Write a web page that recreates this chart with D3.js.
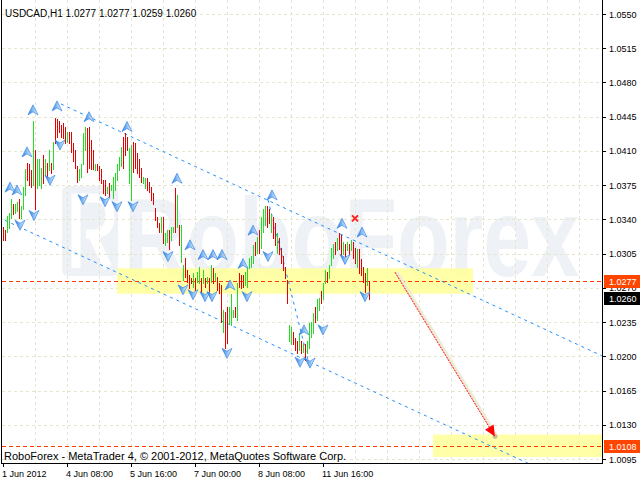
<!DOCTYPE html>
<html><head><meta charset="utf-8">
<script src="https://cdn.jsdelivr.net/npm/d3@7"></script>
<style>
html,body{margin:0;padding:0;background:#fff;overflow:hidden;}
svg{display:block;}
text{font-family:"Liberation Sans",Arial,sans-serif;}
</style>
</head><body>
<svg id="c" width="640" height="481"></svg>
<script>
// ---------------- DATA ----------------
const symbolTitle = "USDCAD,H1  1.0277 1.0277 1.0259 1.0260";
const footerText = "RoboForex - MetaTrader 4, © 2001-2012, MetaQuotes Software Corp.";
const watermarkText = "RoboForex";

// H1 bars (one per hour), highs / lows, and colour (g = bull, r = bear)
const barHigh = [
1.0332,1.0329,1.0343,1.0347,1.0361,1.0356,1.0356,1.0358,1.0361,1.0354,
1.0373,1.0392,1.0398,1.0397,1.0390,1.0441,1.0411,1.0402,1.0402,1.0393,
1.0406,1.0402,1.0398,1.0411,1.0398,1.0419,1.0444,1.0443,1.0441,1.0436,
1.0439,1.0434,1.0429,1.0429,1.0429,1.0418,1.0411,1.0395,1.0392,1.0397,
1.0428,1.0434,1.0433,1.0434,1.0421,1.0411,1.0397,1.0397,1.0395,1.0392,
1.0380,1.0380,1.0373,1.0377,1.0375,1.0383,1.0387,1.0397,1.0404,1.0414,
1.0424,1.0428,1.0424,1.0413,1.0416,1.0419,1.0418,1.0408,1.0402,1.0393,
1.0383,1.0382,1.0382,1.0378,1.0373,1.0367,1.0352,1.0342,1.0336,1.0342,
1.0342,1.0326,1.0329,1.0329,1.0332,1.0332,1.0372,1.0365,1.0334,1.0334,
1.0293,1.0301,1.0288,1.0283,1.0280,1.0285,1.0280,1.0286,1.0291,1.0280,
1.0288,1.0280,1.0281,1.0280,1.0293,1.0290,1.0285,1.0281,1.0275,1.0273,
1.0247,1.0245,1.0250,1.0250,1.0264,1.0247,1.0250,1.0275,1.0285,1.0283,
1.0283,1.0286,1.0290,1.0301,1.0303,1.0314,1.0317,1.0322,1.0329,1.0342,
1.0351,1.0354,1.0354,1.0351,1.0346,1.0342,1.0336,1.0326,1.0321,1.0311,
1.0303,1.0291,1.0278,1.0232,1.0230,1.0225,1.0219,1.0216,1.0224,1.0216,
1.0213,1.0213,1.0216,1.0234,1.0235,1.0244,1.0250,1.0259,1.0260,1.0267,
1.0275,1.0288,1.0286,1.0293,1.0311,1.0315,1.0317,1.0321,1.0326,1.0324,
1.0317,1.0315,1.0317,1.0315,1.0319,1.0317,1.0311,1.0310,1.0310,1.0300,
1.0291,1.0285,1.0290,1.0277];
const barLow = [
1.0319,1.0319,1.0327,1.0331,1.0341,1.0346,1.0347,1.0349,1.0341,1.0341,
1.0351,1.0365,1.0380,1.0375,1.0373,1.0375,1.0351,1.0372,1.0375,1.0372,
1.0377,1.0385,1.0382,1.0390,1.0387,1.0392,1.0418,1.0424,1.0429,1.0424,
1.0423,1.0418,1.0419,1.0418,1.0409,1.0400,1.0393,1.0378,1.0380,1.0383,
1.0397,1.0411,1.0388,1.0393,1.0392,1.0392,1.0390,1.0390,1.0380,1.0377,
1.0367,1.0365,1.0367,1.0363,1.0370,1.0362,1.0370,1.0380,1.0390,1.0395,
1.0393,1.0406,1.0411,1.0377,1.0360,1.0388,1.0393,1.0387,1.0383,1.0378,
1.0377,1.0372,1.0370,1.0368,1.0360,1.0356,1.0339,1.0332,1.0327,1.0327,
1.0316,1.0314,1.0317,1.0310,1.0319,1.0327,1.0327,1.0332,1.0314,1.0296,
1.0278,1.0281,1.0276,1.0270,1.0275,1.0271,1.0268,1.0276,1.0275,1.0266,
1.0275,1.0271,1.0275,1.0265,1.0276,1.0275,1.0278,1.0268,1.0265,1.0235,
1.0225,1.0209,1.0214,1.0234,1.0232,1.0240,1.0240,1.0237,1.0271,1.0270,
1.0271,1.0273,1.0271,1.0290,1.0291,1.0295,1.0304,1.0306,1.0306,1.0311,
1.0327,1.0334,1.0332,1.0336,1.0327,1.0321,1.0314,1.0306,1.0305,1.0295,
1.0288,1.0280,1.0255,1.0216,1.0213,1.0213,1.0206,1.0203,1.0206,1.0203,
1.0204,1.0196,1.0203,1.0209,1.0220,1.0224,1.0235,1.0237,1.0247,1.0254,
1.0259,1.0275,1.0276,1.0280,1.0293,1.0301,1.0305,1.0309,1.0310,1.0303,
1.0305,1.0303,1.0309,1.0305,1.0309,1.0301,1.0295,1.0291,1.0285,1.0283,
1.0276,1.0266,1.0273,1.0259];
const barColor = (
"rrgggrggrg" + "ggrrrgrggg" + "rgrgrgrrrr" + "rrgrrrrrgg" +
"ggrrrrgrrr" + "rrgrgggggg" + "rrrggrrrrr" + "ggrrrrrrrg" +
"rggrggrgrg" + "grrrrgrggr" + "grgrgrgrrr" + "grrgggrgrr" +
"rgggggrgrg" + "ggrrgrrgrr" + "rrrggrrrgr" + "grggggrggr" +
"ggrgggrgrr" + "grgrgrrgrr" + "rrgr").split("");

const priceTicks = [1.0550,1.0515,1.0480,1.0445,1.0410,1.0375,1.0340,1.0305,1.0270,1.0235,1.0200,1.0165,1.0130,1.0095];
const timeLabels = ["1 Jun 2012","4 Jun 08:00","5 Jun 16:00","7 Jun 00:00","8 Jun 08:00","11 Jun 16:00"];
const timeLabelBars = [0,32,64,96,128,160];

// analysis objects: [bar index, price]
const zoneBars = [[57,235],[215,300]];
const zonePrices = [[1.0290,1.0264],[1.0120,1.0097]];
const levelPrices = [1.0277,1.0108];
const lastPrice = 1.0260;
const channelUpper = [[29,1.0458],[300,1.0200]];
const channelLower = [[1,1.0339],[300,1.0055]];
const swingLine = [[132.5,1.0360],[153.5,1.0188]];
const forecastArrow = [[196,1.0286],[246,1.0118]];
const crossMark = [176,1.0341];
const fractalUp = [[3.5,1.0373],[7,1.0370],[12,1.0409],[15,1.0452],[27,1.0456],[43,1.0445],[62,1.0435],
  [87,1.0382],[93.5,1.0314],[100,1.0304],[105,1.0304],[109.5,1.0304],[113.5,1.0273],[120,1.0295],
  [125,1.0329],[134.5,1.0365],[150.5,1.0227],[169.5,1.0336],[179.5,1.0327]];
const fractalDown = [[8.5,1.0334],[15.5,1.0344],[23.5,1.0380],[28.5,1.0416],[40,1.0360],[51,1.0358],
  [57,1.0353],[65,1.0353],[82.5,1.0302],[90,1.0268],[95,1.0263],[101,1.0261],[104.5,1.0261],[112,1.0203],
  [122,1.0261],[132.5,1.0302],[148.5,1.0194],[153.5,1.0193],[160,1.0227],[171,1.0299],[181,1.0261]];

// ---------------- DRAW ----------------
const W = 640, H = 481;
const plot = {left: 2, right: 602, top: 0, bottom: 463};
const svg = d3.select("#c");
const x = d3.scaleLinear().domain([0, 300]).range([3, 603]);
const y = d3.scaleLinear().domain([1.0095, 1.0550]).range([459, 14]);

svg.append("rect").attr("width", W).attr("height", H).attr("fill", "#fff");

const defs = svg.append("defs");
defs.append("clipPath").attr("id", "pc").append("rect")
  .attr("x", plot.left).attr("y", plot.top).attr("width", plot.right - plot.left).attr("height", plot.bottom - plot.top);
const gr = defs.append("linearGradient").attr("id", "fg").attr("x1", "0").attr("x2", "1").attr("y1", "0").attr("y2", "0");
gr.append("stop").attr("offset", "0").attr("stop-color", "#2a78dc");
gr.append("stop").attr("offset", "0.5").attr("stop-color", "#8cc0f2");
gr.append("stop").attr("offset", "1").attr("stop-color", "#eaf4ff");

const g = svg.append("g").attr("clip-path", "url(#pc)");

// watermark (logo drawn as shape, word as text squeezed by a transform)
const wm = g.append("g");
wm.append("rect").attr("x", 62).attr("y", 186).attr("width", 56).attr("height", 90).attr("rx", 6).attr("fill", "#eef1f5");
wm.append("path")
  .attr("d", "M76,268 L76,198 L96,198 Q110,198 110,216 Q110,232 96,234 L86,234 M92,234 L108,268")
  .attr("fill", "none").attr("stroke", "#fff").attr("stroke-width", 9);
wm.append("text").attr("transform", "translate(124,276) scale(0.77,1)")
  .attr("font-size", 112).attr("font-weight", "bold").attr("fill", "#eef1f5").text(watermarkText);

// grid
const gridCol = "#e6e6cc";
g.append("g").selectAll("line").data(priceTicks).join("line")
  .attr("x1", plot.left).attr("x2", plot.right)
  .attr("y1", d => Math.round(y(d)) + 0.5).attr("y2", d => Math.round(y(d)) + 0.5)
  .attr("stroke", gridCol).attr("stroke-dasharray", "3,3");
g.append("g").selectAll("line").data(d3.range(16, 300, 16)).join("line")
  .attr("x1", d => Math.round(x(d)) + 0.5).attr("x2", d => Math.round(x(d)) + 0.5)
  .attr("y1", plot.top).attr("y2", plot.bottom)
  .attr("stroke", gridCol).attr("stroke-dasharray", "3,3");

// zones
g.append("g").selectAll("rect").data(zoneBars).join("rect")
  .attr("x", d => x(d[0])).attr("width", d => x(d[1]) - x(d[0]))
  .attr("y", (d, i) => y(zonePrices[i][0])).attr("height", (d, i) => y(zonePrices[i][1]) - y(zonePrices[i][0]))
  .attr("fill", "#ffff99").attr("opacity", 0.85);

// level lines
g.append("g").selectAll("line").data(levelPrices).join("line")
  .attr("x1", plot.left).attr("x2", plot.right)
  .attr("y1", d => Math.round(y(d)) + 0.5).attr("y2", d => Math.round(y(d)) + 0.5)
  .attr("stroke", "#ff3c00").attr("stroke-dasharray", "4,3");

// channel & swing lines
const line = d3.line().x(d => x(d[0])).y(d => y(d[1]));
[channelUpper, channelLower, swingLine].forEach(c => {
  g.append("path").attr("d", line(c)).attr("fill", "none")
    .attr("stroke", "#1e90ff").attr("stroke-dasharray", "3,4").attr("stroke-width", 1);
});

// bars
g.append("g").selectAll("line").data(barHigh).join("line")
  .attr("x1", (d, i) => Math.round(x(i)) + 0.5).attr("x2", (d, i) => Math.round(x(i)) + 0.5)
  .attr("y1", d => Math.round(y(d))).attr("y2", (d, i) => Math.round(y(barLow[i])) + 1)
  .attr("stroke", (d, i) => barColor[i] === "g" ? "#22dd22" : "#e60000")
  .attr("stroke-width", 1).attr("shape-rendering", "crispEdges");

// fractals
const upPath = "M0,-5 L5,5 L0,2 L-5,5 Z";
const dnPath = "M0,5 L5,-5 L0,-2 L-5,-5 Z";
g.append("g").selectAll("path").data(fractalUp).join("path")
  .attr("d", upPath).attr("transform", d => `translate(${x(d[0])},${y(d[1])})`)
  .attr("fill", "url(#fg)").attr("stroke", "#3a86e6").attr("stroke-width", 0.7);
g.append("g").selectAll("path").data(fractalDown).join("path")
  .attr("d", dnPath).attr("transform", d => `translate(${x(d[0])},${y(d[1])})`)
  .attr("fill", "url(#fg)").attr("stroke", "#3a86e6").attr("stroke-width", 0.7);

// forecast arrow
const a0 = [x(forecastArrow[0][0]), y(forecastArrow[0][1])];
const a1 = [x(forecastArrow[1][0]), y(forecastArrow[1][1])];
g.append("line").attr("x1", a0[0] + 2).attr("y1", a0[1]).attr("x2", a1[0] + 2).attr("y2", a1[1])
  .attr("stroke", "#ecebd6").attr("stroke-width", 3);
g.append("line").attr("x1", a0[0]).attr("y1", a0[1]).attr("x2", a1[0]).attr("y2", a1[1])
  .attr("stroke", "#ff0000").attr("stroke-width", 1).attr("stroke-dasharray", "2,1");
const ang = Math.atan2(a1[1] - a0[1], a1[0] - a0[0]) * 180 / Math.PI;
g.append("circle").attr("cx", a1[0]).attr("cy", a1[1]).attr("r", 2.5).attr("fill", "#a89f88").attr("opacity", 0.6);
g.append("path").attr("d", "M0,0 L-11,-5 L-11,5 Z").attr("fill", "#ff0000")
  .attr("transform", `translate(${a1[0]},${a1[1]}) rotate(${ang})`);

// cross mark
const cx = x(crossMark[0]), cy = y(crossMark[1]);
g.append("path").attr("d", `M${cx-3},${cy-3}L${cx+3},${cy+3}M${cx+3},${cy-3}L${cx-3},${cy+3}`)
  .attr("stroke", "#ff2020").attr("stroke-width", 2);

// frame
svg.append("rect").attr("x", plot.left - 0.5).attr("y", plot.top - 0.5)
  .attr("width", plot.right - plot.left + 1).attr("height", plot.bottom - plot.top + 1)
  .attr("fill", "none").attr("stroke", "#000").attr("stroke-width", 1).attr("shape-rendering", "crispEdges");

// right axis
const ra = svg.append("g");
ra.selectAll("line").data(priceTicks).join("line")
  .attr("x1", plot.right).attr("x2", plot.right + 4)
  .attr("y1", d => Math.round(y(d)) + 0.5).attr("y2", d => Math.round(y(d)) + 0.5)
  .attr("stroke", "#000").attr("shape-rendering", "crispEdges");
ra.selectAll("text").data(priceTicks).join("text")
  .attr("x", 609).attr("y", d => y(d) + 3.5).attr("font-size", 9).attr("fill", "#000")
  .text(d => d.toFixed(4));

// price labels
const tags = [[levelPrices[0], "#ff4500"], [lastPrice, "#000"], [levelPrices[1], "#ff4500"]];
tags.forEach(([p, c]) => {
  const yy = Math.round(y(p));
  svg.append("rect").attr("x", 604).attr("y", yy - 6).attr("width", 36).attr("height", 13).attr("fill", c);
  svg.append("text").attr("x", 609).attr("y", yy + 4).attr("font-size", 9).attr("fill", "#fff").text(p.toFixed(4));
});

// bottom axis
const ba = svg.append("g");
ba.selectAll("line").data(timeLabelBars).join("line")
  .attr("x1", d => Math.round(x(d)) + 0.5).attr("x2", d => Math.round(x(d)) + 0.5)
  .attr("y1", plot.bottom).attr("y2", plot.bottom + 4)
  .attr("stroke", "#000").attr("shape-rendering", "crispEdges");
ba.selectAll("text").data(timeLabelBars).join("text")
  .attr("x", d => x(d) - 1).attr("y", 477).attr("font-size", 9).attr("fill", "#000")
  .text((d, i) => timeLabels[i]);

// texts
svg.append("text").attr("x", 5).attr("y", 17).attr("font-size", 10).attr("fill", "#000").text(symbolTitle);
svg.append("text").attr("x", 4).attr("y", 460).attr("font-size", 11).attr("fill", "#000").text(footerText);
</script>
</body></html>
